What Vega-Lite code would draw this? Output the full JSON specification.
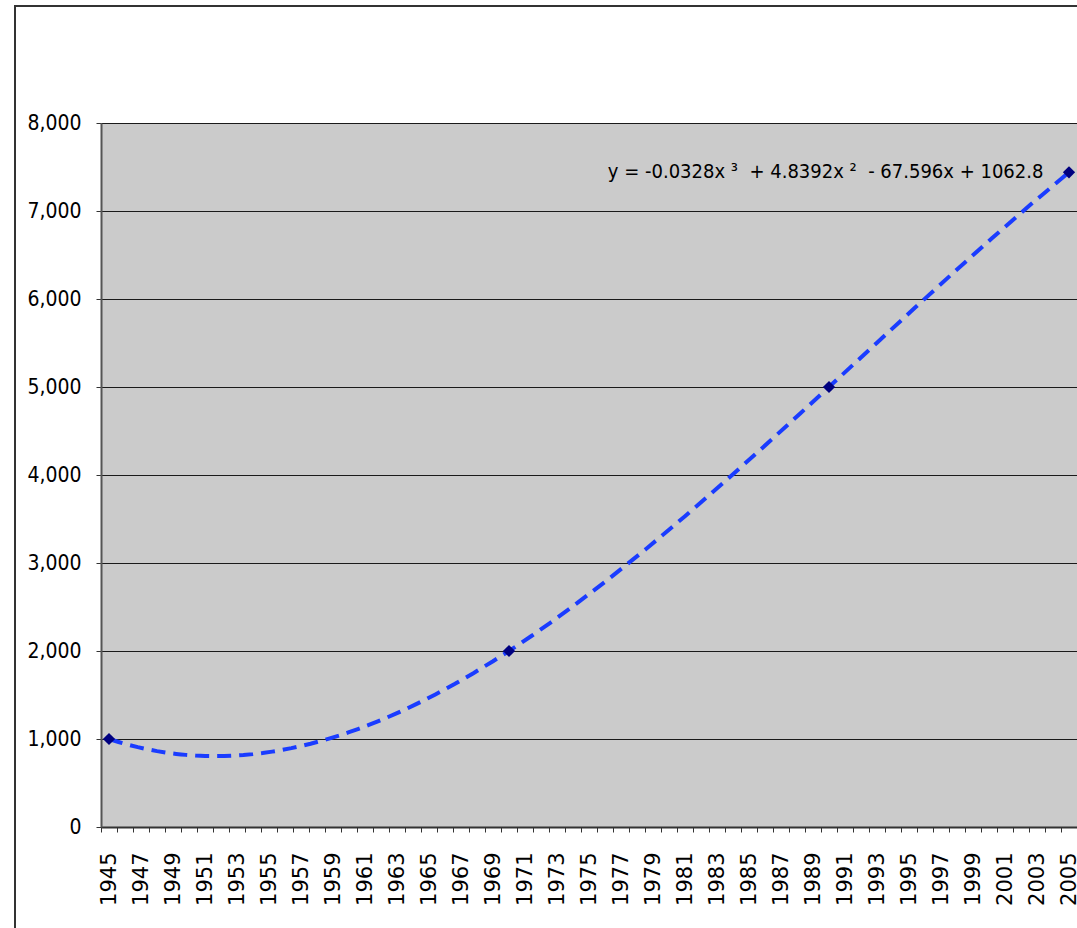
{
  "$schema": "https://vega.github.io/schema/vega-lite/v6.json",
  "width": 976,
  "height": 704,
  "autosize": {"type": "none"},
  "padding": {"left": 101, "top": 123, "right": 0, "bottom": 101},
  "background": "white",
  "config": {
    "view": {"fill": "#CBCBCB", "stroke": "#999999", "strokeWidth": 1},
    "font": "DejaVu Sans",
    "axis": {"labelFont": "DejaVu Sans", "labelColor": "#000000"}
  },
  "data": {"values": [
    {"year": 1945, "value": 1000},
    {"year": 1970, "value": 2000},
    {"year": 1990, "value": 5000},
    {"year": 2005, "value": 7440}
  ]},
  "layer": [
    {
      "transform": [{"regression": "value", "on": "year", "method": "poly", "order": 3, "extent": [1945, 2005]}],
      "mark": {"type": "line", "color": "#1A3CFF", "strokeWidth": 4, "strokeDash": [14, 8]},
      "encoding": {
        "x": {"field": "year", "type": "quantitative",
          "scale": {"domain": [1944.5, 2005.5], "nice": false, "zero": false},
          "axis": {"orient": "bottom", "title": null,
            "values": [1945,1947,1949,1951,1953,1955,1957,1959,1961,1963,1965,1967,1969,1971,1973,1975,1977,1979,1981,1983,1985,1987,1989,1991,1993,1995,1997,1999,2001,2003,2005],
            "format": "d", "labelAngle": 270, "labelFontSize": 21, "ticks": false, "labelPadding": 25,
            "grid": false, "domainColor": "#333333", "domainWidth": 2,
            "labelFlush": false, "labelOverlap": false, "labelBound": false}},
        "y": {"field": "value", "type": "quantitative",
          "scale": {"domain": [0, 8000], "nice": false, "zero": false},
          "axis": {"title": null, "values": [0,1000,2000,3000,4000,5000,6000,7000,8000], "format": ",.0f",
            "labelFont": "DejaVu Sans Condensed, DejaVu Sans", "labelFontSize": 21, "tickSize": 5, "tickColor": "#333333", "labelPadding": 15,
            "grid": true, "gridColor": "#1A1A1A",
            "gridWidth": 1, "domainColor": "#555555", "domainWidth": 2, "labelFlush": false}}
      }
    },
    {
      "mark": {"type": "point", "shape": "diamond", "filled": true, "color": "#000080", "size": 150, "opacity": 1},
      "encoding": {
        "x": {"field": "year", "type": "quantitative",
          "scale": {"domain": [1944.5, 2005.5], "nice": false, "zero": false},
          "axis": {"orient": "bottom", "title": null, "labels": false, "tickSize": 5, "tickColor": "#333333",
            "domain": false, "grid": false,
            "values": [1944.5,1945.5,1946.5,1947.5,1948.5,1949.5,1950.5,1951.5,1952.5,1953.5,1954.5,1955.5,1956.5,1957.5,1958.5,1959.5,1960.5,1961.5,1962.5,1963.5,1964.5,1965.5,1966.5,1967.5,1968.5,1969.5,1970.5,1971.5,1972.5,1973.5,1974.5,1975.5,1976.5,1977.5,1978.5,1979.5,1980.5,1981.5,1982.5,1983.5,1984.5,1985.5,1986.5,1987.5,1988.5,1989.5,1990.5,1991.5,1992.5,1993.5,1994.5,1995.5,1996.5,1997.5,1998.5,1999.5,2000.5,2001.5,2002.5,2003.5,2004.5,2005.5]}},
        "y": {"field": "value", "type": "quantitative",
          "scale": {"domain": [0, 8000], "nice": false, "zero": false},
          "axis": {"title": null, "values": [0,1000,2000,3000,4000,5000,6000,7000,8000], "format": ",.0f",
            "labelFont": "DejaVu Sans Condensed, DejaVu Sans", "labelFontSize": 21, "tickSize": 5, "tickColor": "#333333", "labelPadding": 15,
            "grid": true, "gridColor": "#1A1A1A",
            "gridWidth": 1, "domainColor": "#555555", "domainWidth": 2, "labelFlush": false}}
      }
    },
    {
      "data": {"values": [{"label": "y = -0.0328x \u00b3\u00a0 + 4.8392x \u00b2\u00a0 - 67.596x + 1062.8"}]},
      "mark": {"type": "text", "align": "right", "baseline": "middle", "fontSize": 20, "color": "#000000", "font": "DejaVu Sans Condensed, DejaVu Sans"},
      "encoding": {
        "x": {"datum": 2003.4, "type": "quantitative", "scale": {"domain": [1944.5, 2005.5], "nice": false, "zero": false}, "axis": null},
        "y": {"datum": 7440, "type": "quantitative", "scale": {"domain": [0, 8000], "nice": false, "zero": false},
          "axis": {"title": null, "values": [0,1000,2000,3000,4000,5000,6000,7000,8000], "format": ",.0f",
            "labelFont": "DejaVu Sans Condensed, DejaVu Sans", "labelFontSize": 21, "tickSize": 5, "tickColor": "#333333", "labelPadding": 15,
            "grid": true, "gridColor": "#1A1A1A",
            "gridWidth": 1, "domainColor": "#555555", "domainWidth": 2, "labelFlush": false}},
        "text": {"field": "label"}
      }
    },
    {
      "data": {"values": [{}]},
      "mark": {"type": "rect", "filled": false, "stroke": "#333333", "strokeWidth": 2, "clip": false},
      "encoding": {
        "x": {"datum": 1939.125, "type": "quantitative", "scale": {"domain": [1944.5, 2005.5], "nice": false, "zero": false}, "axis": null},
        "x2": {"datum": 2030},
        "y": {"datum": 9330, "type": "quantitative", "scale": {"domain": [0, 8000], "nice": false, "zero": false},
          "axis": {"title": null, "values": [0,1000,2000,3000,4000,5000,6000,7000,8000], "format": ",.0f",
            "labelFont": "DejaVu Sans Condensed, DejaVu Sans", "labelFontSize": 21, "tickSize": 5, "tickColor": "#333333", "labelPadding": 15,
            "grid": true, "gridColor": "#1A1A1A",
            "gridWidth": 1, "domainColor": "#555555", "domainWidth": 2, "labelFlush": false}},
        "y2": {"datum": -4000}
      }
    }
  ],
  "resolve": {"axis": {"x": "independent"}}
}
